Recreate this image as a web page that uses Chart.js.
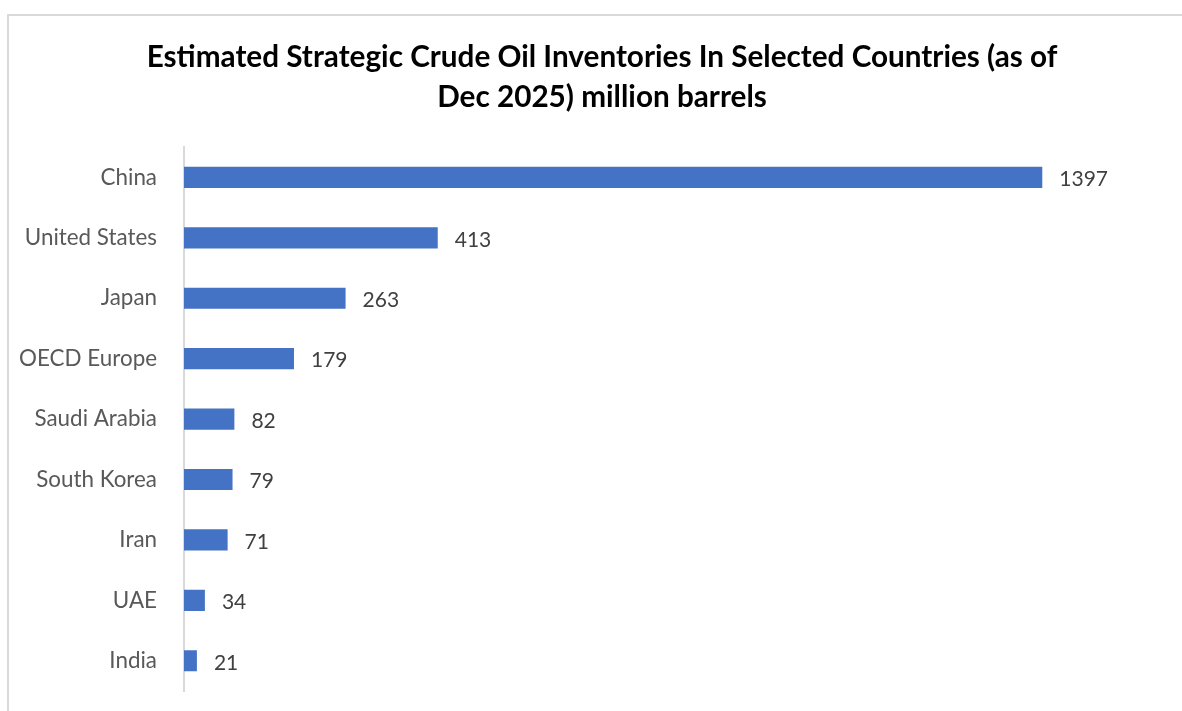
<!DOCTYPE html>
<html>
<head>
<meta charset="utf-8">
<script src="https://cdn.jsdelivr.net/npm/chart.js@4"></script>
<style>
  html, body { margin: 0; padding: 0; background: #fff; overflow: hidden; }
  #frame { position: absolute; left: 7px; top: 14px; width: 1300px; height: 800px;
           border-top: 2px solid #d9d9d9; border-left: 2px solid #d9d9d9; }
  #chart-bar { position: absolute; left: 0; top: 0; }
</style>
</head>
<body>
<div id="frame"></div>
<canvas id="chart-bar" width="1182" height="711"></canvas>
<script>
var countries = ["China", "United States", "Japan", "OECD Europe", "Saudi Arabia", "South Korea", "Iran", "UAE", "India"];
var inventories = [1397, 413, 263, 179, 82, 79, 71, 34, 21];
var titleLines = ["Estimated Strategic Crude Oil Inventories In Selected Countries (as of", "Dec 2025) million barrels"];

// value labels next to each bar
var barLabels = {
    id: 'barLabels',
    afterDatasetsDraw: function (chart) {
        var ctx = chart.ctx;
        var meta = chart.getDatasetMeta(0);
        ctx.save();
        ctx.font = '21px Lato';
        ctx.fillStyle = '#404040';
        ctx.textAlign = 'left';
        ctx.textBaseline = 'middle';
        meta.data.forEach(function (bar, i) {
            ctx.fillText(String(inventories[i]), bar.x + 17, bar.y + 2);
        });
        ctx.restore();
    }
};

// title in the original sits a bit right of the canvas centre
var shiftTitle = {
    id: 'shiftTitle',
    afterLayout: function (chart) {
        if (chart.titleBlock) {
            chart.titleBlock.left += 37;
        }
    }
};

var ctx = document.getElementById("chart-bar").getContext("2d");

new Chart(ctx, {
    type: "bar",
    data: {
        labels: countries,
        datasets: [{
            label: "million barrels",
            data: inventories,
            backgroundColor: "#4472C4",
            borderWidth: 0,
            categoryPercentage: 0.35,
            barPercentage: 1
        }]
    },
    options: {
        indexAxis: 'y',
        responsive: false,
        animation: false,
        layout: {
            padding: { top: 37, right: 15, bottom: 20, left: 0 }
        },
        plugins: {
            legend: { display: false },
            tooltip: { enabled: false },
            title: {
                display: true,
                text: titleLines,
                color: '#000000',
                font: { family: 'Lato', size: 29.7, weight: 'bold', lineHeight: 1.35 },
                padding: { top: 0, bottom: 30 }
            }
        },
        scales: {
            x: {
                display: false,
                min: 0,
                max: 1600
            },
            y: {
                afterFit: function (scale) {
                    scale.width = 184;
                    scale.paddingTop = 0;
                    scale.paddingBottom = 0;
                },
                grid: { display: false, drawTicks: false },
                border: { display: true, color: '#d9d9d9', width: 2 },
                ticks: {
                    color: '#595959',
                    padding: 27,
                    font: { family: 'Lato', size: 22.4 }
                }
            }
        }
    },
    plugins: [barLabels, shiftTitle]
});
</script>
</body>
</html>
